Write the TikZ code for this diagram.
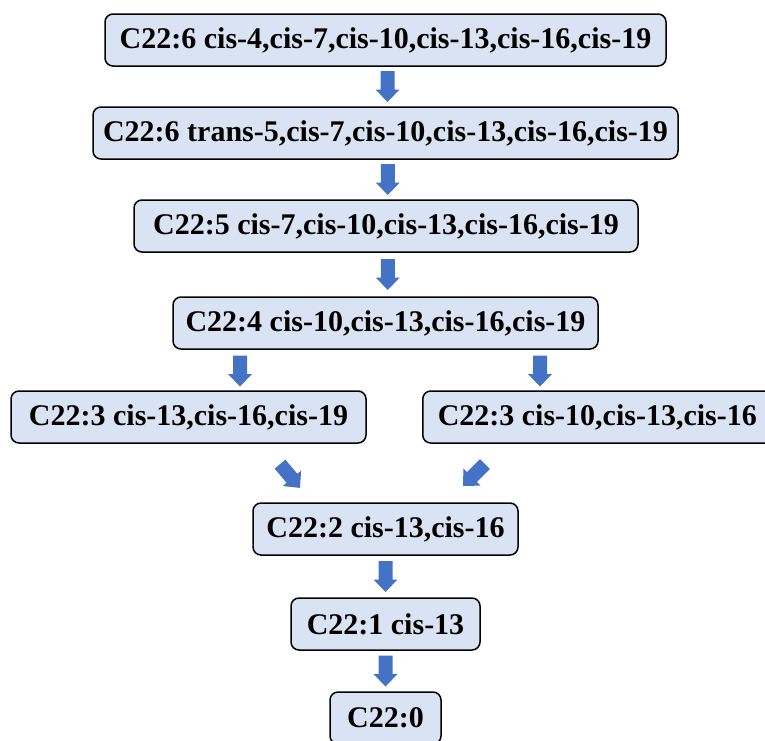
\documentclass[tikz,border=0pt]{standalone}
\usepackage{fontspec}
\setmainfont{Liberation Serif}
\usetikzlibrary{calc}
\definecolor{boxfill}{HTML}{DAE3F3}
\definecolor{arrowblue}{HTML}{4472C4}
\tikzset{
  fa/.style={draw=black, line width=1.5pt, fill=boxfill, rounded corners=8pt,
    minimum height=52pt, inner sep=0pt, align=center,
    font=\fontsize{30pt}{32pt}\selectfont\bfseries},
  % block arrow pointing down, centred on its origin
  flow/.pic={
    \fill[arrowblue] (-7,-15.5) -- (7,-15.5) -- (7,3) -- (12,3) -- (0,15.5)
      -- (-12,3) -- (-7,3) -- cycle;
  },
}
\begin{document}
\begin{tikzpicture}[x=1pt, y=-1pt]
  \useasboundingbox (0,0) rectangle (765,740);
  \clip (0,0) rectangle (765,740);

  % fatty acid boxes
  \node[fa, minimum width=561pt] (b1) at (385.5,40)  {C22:6 cis-4,cis-7,cis-10,cis-13,cis-16,cis-19};
  \node[fa, minimum width=585pt] (b2) at (385.5,133) {C22:6 trans-5,cis-7,cis-10,cis-13,cis-16,cis-19};
  \node[fa, minimum width=504pt] (b3) at (386,226)   {C22:5 cis-7,cis-10,cis-13,cis-16,cis-19};
  \node[fa, minimum width=425pt] (b4) at (385.5,323) {C22:4 cis-10,cis-13,cis-16,cis-19};
  \node[fa, minimum width=355pt] (b5) at (188.5,417) {C22:3 cis-13,cis-16,cis-19};
  \node[fa, anchor=west, text width=340pt, align=flush left, inner xsep=15pt] (b6) at (422,417)
    {C22:3 cis-10,cis-13,cis-16};
  \node[fa, minimum width=265pt] (b7) at (385.5,529) {C22:2 cis-13,cis-16};
  \node[fa, minimum width=189pt] (b8) at (385.5,624) {C22:1 cis-13};
  \node[fa, minimum width=111pt] (b9) at (385.5,718) {C22:0};

  % block arrows between the steps
  \pic (a1) at ($(b1.south)!0.5!(b2.north)+(2,0)$) {flow};
  \pic (a2) at ($(b2.south)!0.5!(b3.north)+(2,0)$) {flow};
  \pic (a3) at ($(b3.south)!0.5!(b4.north)+(2,0)$) {flow};
  \pic (a4) at (240,371) {flow};
  \pic (a5) at (540,371) {flow};
  \pic[rotate=40] (a6) at (290,476) {flow};
  \pic[rotate=-45] (a7) at (474,475) {flow};
  \pic (a8) at ($(b7.south)!0.5!(b8.north)$) {flow};
  \pic (a9) at ($(b8.south)!0.5!(b9.north)$) {flow};
\end{tikzpicture}
\end{document}
